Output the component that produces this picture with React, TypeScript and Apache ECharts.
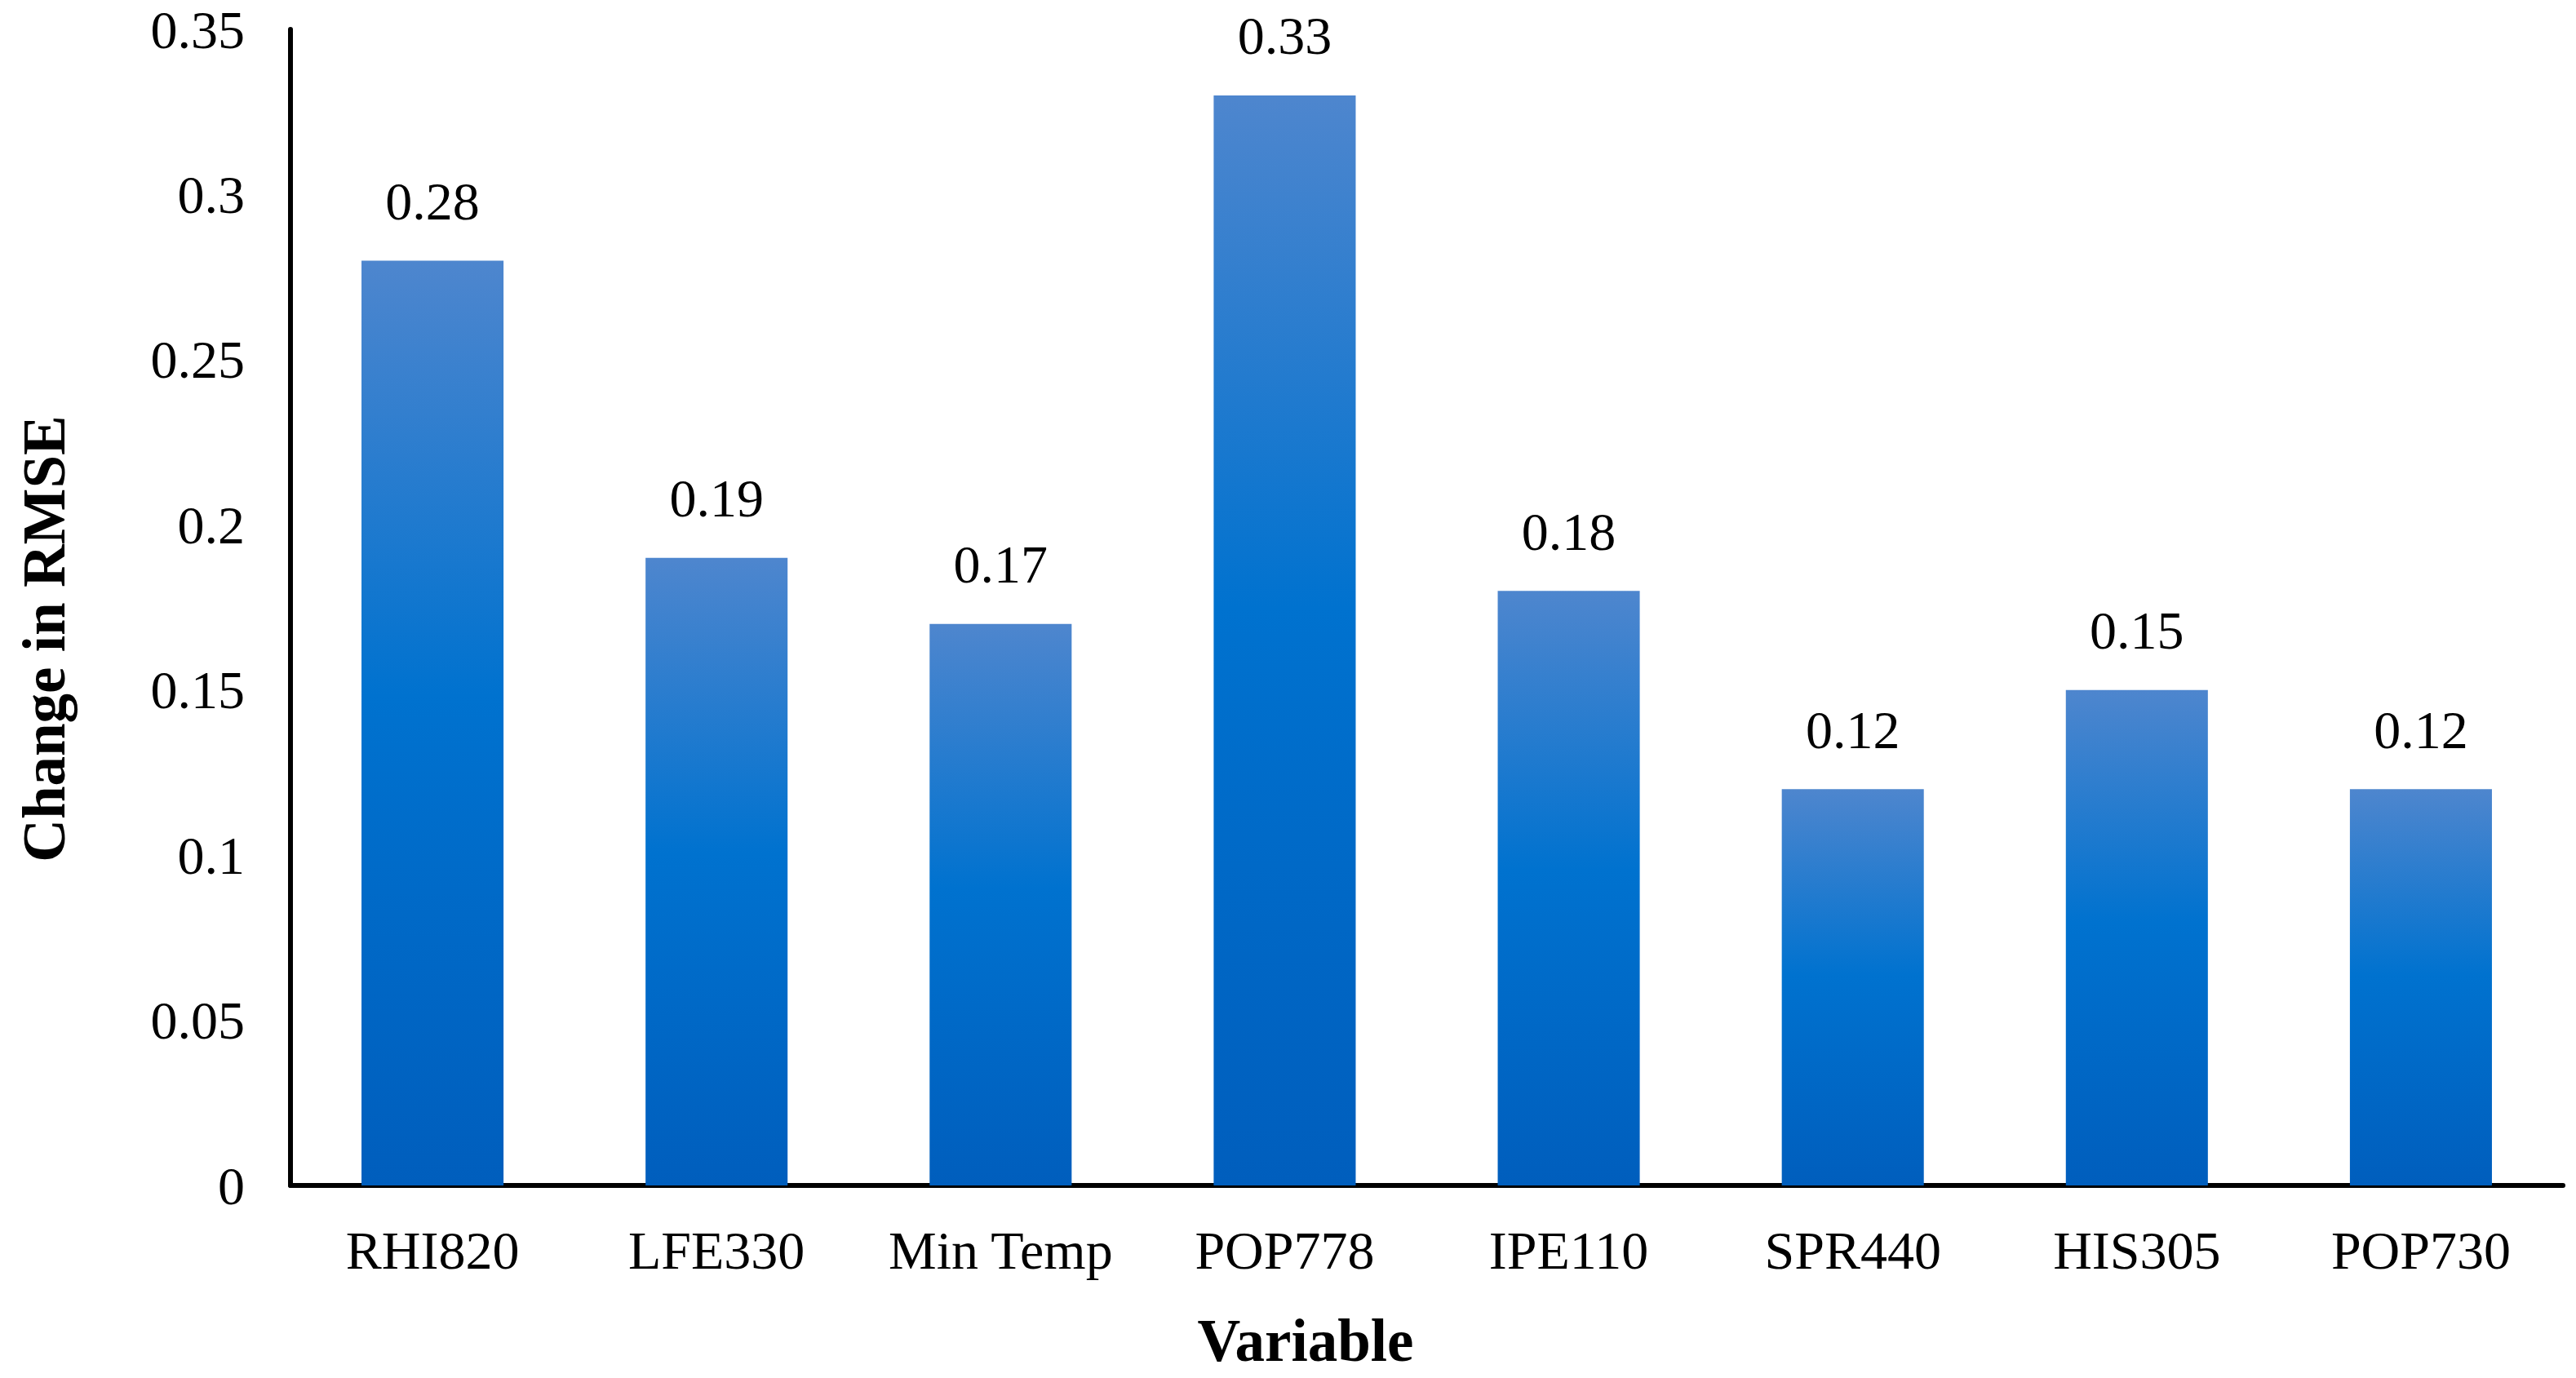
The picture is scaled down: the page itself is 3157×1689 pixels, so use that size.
import React, { useEffect, useRef } from "react";
import * as echarts from "echarts";

const categories = ["RHI820", "LFE330", "Min Temp", "POP778", "IPE110", "SPR440", "HIS305", "POP730"];
const values = [0.28, 0.19, 0.17, 0.33, 0.18, 0.12, 0.15, 0.12];
const yMin = 0;
const yMax = 0.35;
const yInterval = 0.05;
const xTitle = "Variable";
const yTitle = "Change in RMSE";

const FONT = "'Liberation Serif', 'Times New Roman', serif";

export default function App() {
  const ref = useRef<HTMLDivElement>(null);
  useEffect(() => {
    document.body.style.margin = "0";
    if (!ref.current) return;
    const chart = echarts.init(ref.current, undefined, { renderer: "svg" });
    const gradient = new echarts.graphic.LinearGradient(0, 0, 0, 1, [
      { offset: 0, color: "#4E86CE" },
      { offset: 0.47, color: "#0072CF" },
      { offset: 1, color: "#005EBD" },
    ]);
    chart.setOption({
      animation: false,
      backgroundColor: "#ffffff",
      textStyle: { fontFamily: FONT },
      grid: { left: 356, right: 16, top: 36, bottom: 236, containLabel: false },
      xAxis: {
        type: "category",
        data: categories,
        axisLine: { show: true, lineStyle: { color: "#000", width: 6 } },
        axisTick: { show: false },
        axisLabel: { color: "#000", fontSize: 66, fontFamily: FONT, margin: 46, interval: 0 },
        splitLine: { show: false },
      },
      yAxis: {
        type: "value",
        min: yMin,
        max: yMax,
        interval: yInterval,
        axisLine: { show: true, lineStyle: { color: "#000", width: 6 } },
        axisTick: { show: false },
        axisLabel: { color: "#000", fontSize: 66, fontFamily: FONT, margin: 56 },
        splitLine: { show: false },
      },
      graphic: [
        {
          type: "text",
          x: 1600,
          y: 1643,
          style: {
            text: xTitle,
            fill: "#000",
            font: `bold 73px ${FONT}`,
            textAlign: "center",
            textVerticalAlign: "middle",
          },
        },
        {
          type: "text",
          x: 54,
          y: 783,
          rotation: Math.PI / 2,
          style: {
            text: yTitle,
            fill: "#000",
            font: `bold 73px ${FONT}`,
            textAlign: "center",
            textVerticalAlign: "middle",
          },
        },
      ],
      series: [
        {
          type: "bar",
          data: values,
          barWidth: "50%",
          itemStyle: { color: gradient },
          label: {
            show: true,
            position: "top",
            distance: 40,
            color: "#000",
            fontSize: 66,
            fontFamily: FONT,
          },
        },
      ],
    });
    return () => chart.dispose();
  }, []);
  return <div ref={ref} style={{ width: 3157, height: 1689 }} />;
}
